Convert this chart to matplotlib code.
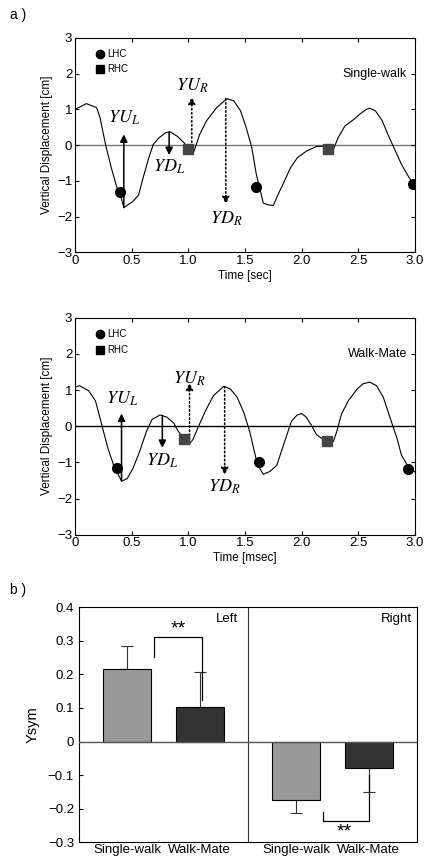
import matplotlib
matplotlib.use("Agg")
import matplotlib.pyplot as plt
import numpy as np

plt.rcParams['font.family'] = ['Liberation Sans', 'DejaVu Sans']
plt.rcParams['mathtext.fontset'] = 'stix'
plt.rcParams['axes.unicode_minus'] = True

# a) Single-walk vertical displacement (read from the figure)
t_single = [0, 0.1, 0.19, 0.22, 0.27, 0.32, 0.37, 0.4, 0.43, 0.51, 0.56, 0.6, 0.65,
            0.69, 0.74, 0.8, 0.84, 0.9, 0.96, 1.01, 1.05, 1.07, 1.1, 1.16, 1.25, 1.34,
            1.4, 1.46, 1.51, 1.56, 1.6, 1.63, 1.66, 1.7, 1.75, 1.79, 1.84, 1.9, 1.96,
            2.04, 2.13, 2.22, 2.28, 2.32, 2.38, 2.46, 2.51, 2.57, 2.6, 2.65, 2.71, 2.76,
            2.82, 2.88, 2.94, 3.0]
y_single = [1.0, 1.16, 1.05, 0.77, 0.0, -0.64, -1.2, -1.4, -1.75, -1.58, -1.4, -0.92,
            -0.36, 0.02, 0.2, 0.35, 0.37, 0.25, 0.07, -0.12, -0.17, 0.02, 0.3, 0.68,
            1.05, 1.3, 1.24, 0.96, 0.49, -0.08, -0.83, -1.2, -1.62, -1.67, -1.69, -1.39,
            -1.06, -0.64, -0.36, -0.17, -0.04, -0.03, -0.12, 0.2, 0.53, 0.72, 0.86, 1.0,
            1.03, 0.96, 0.68, 0.3, -0.12, -0.54, -0.87, -1.15]
lhc_single_t = [0.4, 1.6, 2.98]
lhc_single_y = [-1.3, -1.17, -1.1]
rhc_single_t = [1.0, 2.23]
rhc_single_y = [-0.12, -0.12]

# Walk-Mate vertical displacement
t_mate = [0, 0.04, 0.12, 0.18, 0.22, 0.25, 0.29, 0.34, 0.37, 0.41, 0.46, 0.51, 0.57,
          0.63, 0.68, 0.75, 0.81, 0.87, 0.91, 0.97, 1.01, 1.04, 1.09, 1.15, 1.22, 1.31,
          1.37, 1.43, 1.49, 1.54, 1.6, 1.63, 1.66, 1.72, 1.78, 1.82, 1.87, 1.91, 1.96,
          2.0, 2.04, 2.09, 2.13, 2.19, 2.25, 2.28, 2.31, 2.35, 2.41, 2.49, 2.54, 2.6,
          2.66, 2.72, 2.78, 2.84, 2.88, 2.94, 3.0]
y_mate = [1.08, 1.12, 0.98, 0.7, 0.23, -0.14, -0.61, -1.08, -1.27, -1.52, -1.45,
          -1.17, -0.7, -0.14, 0.19, 0.31, 0.25, 0.09, -0.14, -0.37, -0.48, -0.37, 0.0,
          0.42, 0.84, 1.1, 1.03, 0.8, 0.37, -0.14, -0.94, -1.17, -1.33, -1.25, -1.08,
          -0.7, -0.23, 0.14, 0.31, 0.35, 0.25, 0.0, -0.23, -0.37, -0.45, -0.42, -0.14,
          0.33, 0.7, 1.03, 1.17, 1.22, 1.12, 0.8, 0.23, -0.33, -0.8, -1.12, -1.27]
lhc_mate_t = [0.37, 1.62, 2.94]
lhc_mate_y = [-1.15, -1.0, -1.18]
rhc_mate_t = [0.96, 2.22]
rhc_mate_y = [-0.35, -0.42]

# arrows: x, start, end, letters, subscript, label y, dotted
arrows_single = [(0.43, -1.75, 0.3, 'YU', 'L', 0.75, False),
                 (0.83, 0.37, -0.28, 'YD', 'L', -0.62, False),
                 (1.03, -0.15, 1.35, 'YU', 'R', 1.65, True),
                 (1.33, 1.3, -1.65, 'YD', 'R', -2.05, True)]
arrows_mate = [(0.41, -1.52, 0.35, 'YU', 'L', 0.75, False),
               (0.77, 0.3, -0.6, 'YD', 'L', -0.95, False),
               (1.01, -0.48, 1.2, 'YU', 'R', 1.3, True),
               (1.32, 1.1, -1.35, 'YD', 'R', -1.68, True)]

# b) Ysym bars
bar_groups = ['Left', 'Right']
bar_labels = ['Single-walk', 'Walk-Mate', 'Single-walk', 'Walk-Mate']
bar_values = [0.217, 0.103, -0.175, -0.078]
bar_errors = [0.068, 0.104, 0.037, 0.072]
bar_colors = ['#999999', '#333333', '#999999', '#333333']
bar_x = [1, 2.5, 4.5, 6]

fig = plt.figure(figsize=(4.29, 8.61), dpi=100)


def wave_panel(ax, t, y, lt, ly, rt, ry, arrows, title, xlab, zero_col):
    ax.plot(t, y, color='black', lw=0.8)
    ax.axhline(0, color=zero_col, lw=1.0, zorder=1)
    ax.plot(lt, ly, 'o', color='black', ms=7, zorder=4)
    ax.plot(rt, ry, 's', color='#444444', ms=7, zorder=4)
    for x, y0, y1, a, b, yl, dotted in arrows:
        ls = ':' if dotted else '-'
        ax.annotate('', xy=(x, y1), xytext=(x, y0),
                    arrowprops=dict(arrowstyle='-|>', lw=1.1, ls=ls, color='black',
                                    mutation_scale=11, shrinkA=0, shrinkB=0))
        ax.text(x, yl, r'$\mathit{%s}_{\mathit{%s}}$' % (a, b), ha='center',
                va='center', fontsize=13)
    ax.plot([0.22], [2.55], 'o', color='black', ms=6)
    ax.plot([0.22], [2.12], 's', color='black', ms=5.5)
    ax.text(0.28, 2.55, 'LHC', fontsize=7, va='center')
    ax.text(0.28, 2.12, 'RHC', fontsize=7, va='center')
    ax.text(2.93, 2.0, title, fontsize=9, ha='right', va='center')
    ax.set_xlim(0, 3.0)
    ax.set_ylim(-3, 3)
    ax.set_xticks([0, 0.5, 1.0, 1.5, 2.0, 2.5, 3.0])
    ax.set_xticklabels(['0', '0.5', '1.0', '1.5', '2.0', '2.5', '3.0'])
    ax.set_yticks([-3, -2, -1, 0, 1, 2, 3])
    ax.tick_params(direction='in', length=3, labelsize=9.5, top=True, right=True, pad=2)
    ax.set_xlabel(xlab, fontsize=8.5, labelpad=2)
    ax.set_ylabel('Vertical Displacement [cm]', fontsize=8.5, labelpad=3)


ax1 = fig.add_axes([0.175, 0.707, 0.7925, 0.249])
wave_panel(ax1, t_single, y_single, lhc_single_t, lhc_single_y, rhc_single_t,
           rhc_single_y, arrows_single, 'Single-walk', 'Time [sec]', '#777777')

ax2 = fig.add_axes([0.175, 0.379, 0.7925, 0.252])
wave_panel(ax2, t_mate, y_mate, lhc_mate_t, lhc_mate_y, rhc_mate_t,
           rhc_mate_y, arrows_mate, 'Walk-Mate', 'Time [msec]', 'black')

ax3 = fig.add_axes([0.184, 0.0215, 0.788, 0.2735])
ax3.bar(bar_x, bar_values, width=1.0, color=bar_colors, edgecolor='black', lw=0.8,
        zorder=2)
for x, v, e in zip(bar_x, bar_values, bar_errors):
    yerr = [[0], [e]] if v > 0 else [[e], [0]]
    ax3.errorbar([x], [v], yerr=yerr, color='#333333', lw=0.8, capsize=4,
                 capthick=0.8, fmt='none', zorder=1)
ax3.axhline(0, color='#555555', lw=1.0, zorder=3)
ax3.axvline(3.5, color='#333333', lw=0.8)
# significance brackets
ax3.plot([1.55, 1.55, 2.55, 2.55], [0.25, 0.31, 0.31, 0.125], color='black', lw=0.9)
ax3.text(2.05, 0.335, '**', ha='center', va='center', fontsize=14)
ax3.plot([5.05, 5.05, 6.0, 6.0], [-0.21, -0.237, -0.237, -0.1], color='black', lw=0.9)
ax3.text(5.5, -0.268, '**', ha='center', va='center', fontsize=14)
ax3.text(3.3, 0.363, bar_groups[0], ha='right', va='center', fontsize=9.5)
ax3.text(6.9, 0.363, bar_groups[1], ha='right', va='center', fontsize=9.5)
ax3.set_xlim(0, 7)
ax3.set_ylim(-0.3, 0.4)
ax3.set_yticks([-0.3, -0.2, -0.1, 0, 0.1, 0.2, 0.3, 0.4])
ax3.set_yticklabels(['−0.3', '−0.2', '−0.1', '0', '0.1', '0.2', '0.3', '0.4'])
ax3.set_xticks(bar_x)
ax3.set_xticklabels(bar_labels, fontsize=9.5)
ax3.tick_params(axis='x', length=0, pad=1)
ax3.tick_params(axis='y', direction='in', length=3, labelsize=9.5)
ax3.set_ylabel('Ysym', fontsize=10.5, labelpad=6)

fig.text(0.023, 0.983, 'a )', fontsize=10, va='center')
fig.text(0.023, 0.315, 'b )', fontsize=10, va='center')

fig.savefig('out.png', dpi=100)
